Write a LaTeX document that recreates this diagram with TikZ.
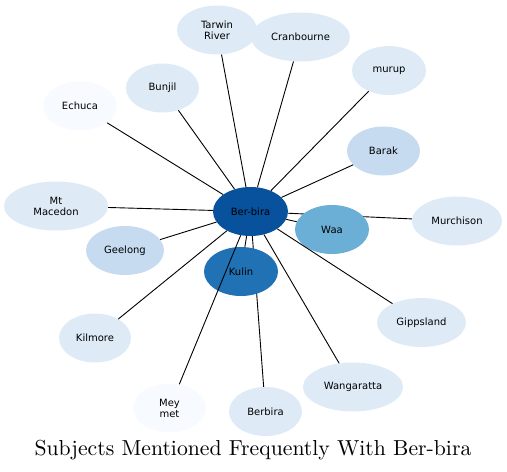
\documentclass[tikz,border=0pt]{standalone}
\usepackage{fontspec}
\newfontfamily\nodefont{DejaVu Sans}
\newfontfamily\titlefont{lmroman10-regular.otf}
\usetikzlibrary{shapes.geometric}
\pgfdeclarelayer{bg}
\pgfsetlayers{bg,main}
\definecolor{c1}{HTML}{08519C}
\definecolor{c2}{HTML}{2171B5}
\definecolor{c3}{HTML}{6BAED6}
\definecolor{c4}{HTML}{C6DBEF}
\definecolor{c5}{HTML}{DEEBF7}
\definecolor{c6}{HTML}{F7FBFF}
\tikzset{
  ent/.style={ellipse, minimum height=49pt, inner sep=0pt, align=center,
    font=\nodefont\fontsize{10}{11}\selectfont, text=black, fill=#1},
  link/.style={draw=black, line width=0.9pt}
}
\begin{document}
\begin{tikzpicture}[x=1pt,y=-1pt]
\useasboundingbox (0,0) rectangle (507,472);
\node[ent=c1, minimum width=75pt] (ber) at (250.5,211.5) {Ber-bira};
\node[ent=c2, minimum width=74pt] (kulin) at (241,271.5) {Kulin};
\node[ent=c3, minimum width=74pt] (waa) at (332,229.5) {Waa};
\node[ent=c5, minimum width=80pt] (tarwin) at (217,30) {Tarwin\\River};
\node[ent=c5, minimum width=99pt] (cran) at (300.5,37) {Cranbourne};
\node[ent=c5, minimum width=74pt] (murup) at (389,70.5) {murup};
\node[ent=c4, minimum width=73pt] (barak) at (383.5,151) {Barak};
\node[ent=c5, minimum width=90pt] (murch) at (457,221) {Murchison};
\node[ent=c5, minimum width=89pt] (gipps) at (421.5,322.5) {Gippsland};
\node[ent=c5, minimum width=100pt] (wang) at (353,387) {Wangaratta};
\node[ent=c5, minimum width=73pt] (berbira) at (265.5,411.5) {Berbira};
\node[ent=c6, minimum width=73pt] (mey) at (169.5,408) {Mey\\met};
\node[ent=c5, minimum width=72pt] (kil) at (95,338) {Kilmore};
\node[ent=c4, minimum width=78pt] (geel) at (125,250.5) {Geelong};
\node[ent=c5, minimum width=104pt] (mac) at (56,206) {Mt\\Macedon};
\node[ent=c6, minimum width=74pt] (echuca) at (80,106) {Echuca};
\node[ent=c5, minimum width=73pt] (bunjil) at (162.5,88) {Bunjil};
\begin{pgfonlayer}{bg}
\draw[link] (ber) -- (berbira);
\draw[link] (ber) -- (murch);
\end{pgfonlayer}
\draw[link] (ber) -- (kulin);
\draw[link] (ber) -- (waa);
\draw[link] (ber) -- (tarwin);
\draw[link] (ber) -- (cran);
\draw[link] (ber) -- (murup);
\draw[link] (ber) -- (barak);
\draw[link] (ber) -- (gipps);
\draw[link] (ber) -- (wang);
\draw[link] (ber) -- (mey);
\draw[link] (ber) -- (kil);
\draw[link] (ber) -- (geel);
\draw[link] (ber) -- (mac);
\draw[link] (ber) -- (echuca);
\draw[link] (ber) -- (bunjil);
\node[font=\titlefont\fontsize{21.7}{23}\selectfont, inner sep=0pt] (title) at (253,450) {Subjects Mentioned Frequently With Ber-bira};
\end{tikzpicture}
\end{document}
